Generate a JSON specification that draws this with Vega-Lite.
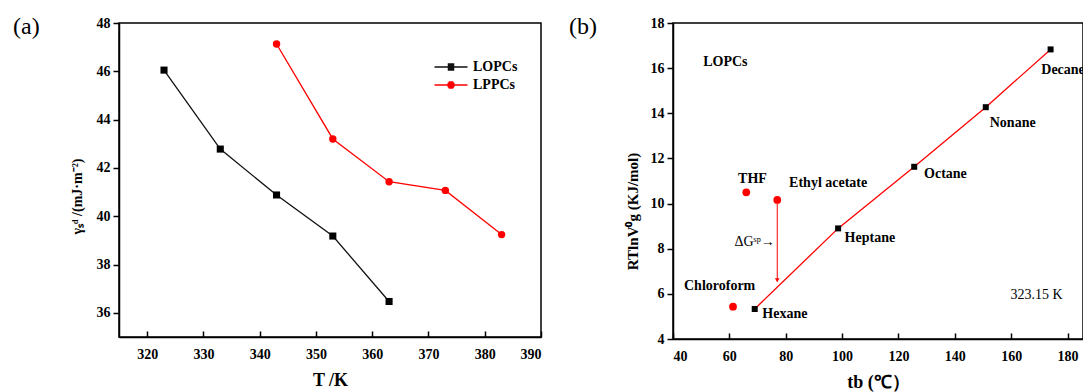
{
  "$schema": "https://vega.github.io/schema/vega-lite/v6.json",
  "padding": {"left": 12, "top": 14, "right": 0, "bottom": 0},
  "background": "white",
  "config": {
    "font": "Liberation Serif",
    "view": {"stroke": "#000", "strokeWidth": 1.5},
    "axis": {"grid": false, "domainColor": "#000", "domainWidth": 1.5, "tickColor": "#000", "tickWidth": 1.5,
      "labelFont": "Liberation Serif", "labelFontWeight": "bold", "labelFontSize": 14, "labelColor": "#000",
      "titleFont": "Liberation Serif", "titleFontWeight": "bold", "titleColor": "#000"},
    "axisX": {"tickSize": -6, "labelPadding": 16, "titleFontSize": 18, "titlePadding": 10},
    "axisY": {"tickSize": 6, "labelPadding": 3, "titleFontSize": 14, "titlePadding": 12},
    "legend": {"title": null, "orient": "none", "padding": 0, "labelFont": "Liberation Serif", "labelFontWeight": "bold", "labelFontSize": 14, "labelColor": "#000",
      "symbolSize": 100, "symbolStrokeWidth": 1.3, "symbolFillColor": "transparent", "labelOffset": 15},
    "title": {"font": "Liberation Serif", "fontSize": 24, "fontWeight": "normal", "anchor": "start", "frame": "group", "baseline": "top", "offset": 7, "dy": 30, "color": "#000"}
  },
  "bounds": "flush",
  "spacing": 132,
  "hconcat": [
    {
      "width": 422, "height": 314,
      "title": {"text": "(a)", "dx": -106},
      "data": {"values": [
        {"T": 323, "g": 46.05, "s": "LOPCs"},
        {"T": 333, "g": 42.78, "s": "LOPCs"},
        {"T": 343, "g": 40.88, "s": "LOPCs"},
        {"T": 353, "g": 39.18, "s": "LOPCs"},
        {"T": 363, "g": 36.47, "s": "LOPCs"},
        {"T": 343, "g": 47.13, "s": "LPPCs"},
        {"T": 353, "g": 43.2, "s": "LPPCs"},
        {"T": 363, "g": 41.43, "s": "LPPCs"},
        {"T": 373, "g": 41.07, "s": "LPPCs"},
        {"T": 383, "g": 39.24, "s": "LPPCs"}
      ]},
      "encoding": {
        "x": {"field": "T", "type": "quantitative", "scale": {"domain": [315, 390]},
          "axis": {"values": [320, 330, 340, 350, 360, 370, 380, 390], "title": "T /K"}},
        "y": {"field": "g", "type": "quantitative", "scale": {"domain": [35, 48]},
          "axis": {"values": [36, 38, 40, 42, 44, 46, 48], "title": "γₛᵈ /(mJ·m⁻²)", "titleY": 173}}
      },
      "layer": [
        {"transform": [{"filter": "datum.s === 'LOPCs'"}],
          "mark": {"type": "line", "strokeWidth": 1.3, "color": "#222"},
          "encoding": {"color": {"field": "s", "type": "nominal", "scale": {"domain": ["LOPCs"], "range": ["#111111"]},
            "legend": {"legendX": 325, "legendY": 37,
              "symbolType": "M-3.3,0H3.3M-0.65,-0.6H0.65M-0.65,-0.4H0.65M-0.65,-0.2H0.65M-0.65,0.2H0.65M-0.65,0.4H0.65M-0.65,0.6H0.65"}}}},
        {"transform": [{"filter": "datum.s === 'LPPCs'"}],
          "mark": {"type": "line", "strokeWidth": 1.3},
          "encoding": {"stroke": {"field": "s", "type": "nominal", "scale": {"domain": ["LPPCs"], "range": ["#ff0000"]},
            "legend": {"legendX": 325, "legendY": 55,
              "symbolType": "M-3.3,0H3.3M-0.72,-0.2H0.72M-0.72,0.2H0.72M-0.63,-0.4H0.63M-0.63,0.4H0.63M-0.45,-0.6H0.45M-0.45,0.6H0.45"}}}},
        {"transform": [{"filter": "datum.s === 'LOPCs'"}],
          "mark": {"type": "square", "size": 50, "color": "#000000", "opacity": 1}},
        {"transform": [{"filter": "datum.s === 'LPPCs'"}],
          "mark": {"type": "circle", "size": 55, "color": "#ff0000", "opacity": 1}}
      ],
      "resolve": {"legend": {"color": "independent", "stroke": "independent"}}
    },
    {
      "width": 410, "height": 316,
      "title": {"text": "(b)", "dx": -104},
      "encoding": {
        "x": {"field": "x", "type": "quantitative", "scale": {"domain": [40, 185.5]},
          "axis": {"values": [40, 60, 80, 100, 120, 140, 160, 180], "title": "tb (℃）"}},
        "y": {"field": "y", "type": "quantitative", "scale": {"domain": [4, 18]},
          "axis": {"values": [4, 6, 8, 10, 12, 14, 16, 18], "title": "RTlnV⁰g (KJ/mol)", "titleFontSize": 15, "titlePadding": 10, "titleY": 188}}
      },
      "layer": [
        {"data": {"values": [
          {"x": 69.0, "y": 5.33, "n": "Hexane"},
          {"x": 98.6, "y": 8.9, "n": "Heptane"},
          {"x": 125.6, "y": 11.63, "n": "Octane"},
          {"x": 151.0, "y": 14.27, "n": "Nonane"},
          {"x": 174.0, "y": 16.83, "n": "Decane"}
        ]},
          "layer": [
            {"mark": {"type": "line", "color": "#ff0000", "strokeWidth": 1.3}},
            {"mark": {"type": "square", "color": "#000", "size": 36, "opacity": 1}}
          ]},
        {"data": {"values": [
          {"x": 66.0, "y": 10.5, "n": "THF"},
          {"x": 77.0, "y": 10.16, "n": "Ethyl acetate"},
          {"x": 61.3, "y": 5.43, "n": "Chloroform"}
        ]},
          "mark": {"type": "circle", "color": "#ff0000", "size": 60, "opacity": 1}},
        {"data": {"values": [{"x": 77.0, "y": 10.0, "y2": 6.55}]},
          "mark": {"type": "rule", "color": "#ff0000", "strokeWidth": 1},
          "encoding": {"y2": {"field": "y2"}}},
        {"data": {"values": [{"x": 77.0, "y": 6.6}]},
          "mark": {"type": "point", "shape": "triangle-down", "filled": true, "color": "#ff0000", "size": 22, "opacity": 1}},
        {"data": {"values": [
          {"x": 50.7, "y": 16.27, "t": "LOPCs"},
          {"x": 63.1, "y": 11.09, "t": "THF"},
          {"x": 81.2, "y": 10.9, "t": "Ethyl acetate"},
          {"x": 43.9, "y": 6.36, "t": "Chloroform"},
          {"x": 71.7, "y": 5.1, "t": "Hexane"},
          {"x": 100.9, "y": 8.47, "t": "Heptane"},
          {"x": 129.1, "y": 11.31, "t": "Octane"},
          {"x": 152.4, "y": 13.57, "t": "Nonane"},
          {"x": 170.7, "y": 15.93, "t": "Decane"}
        ]},
          "mark": {"type": "text", "align": "left", "baseline": "middle", "font": "Liberation Serif", "fontWeight": "bold", "fontSize": 14, "color": "#000", "clip": true},
          "encoding": {"text": {"field": "t"}}},
        {"data": {"values": [
          {"x": 159.8, "y": 5.95, "t": "323.15 K"},
          {"x": 61.8, "y": 8.3, "t": "ΔGˢᵖ→"}
        ]},
          "mark": {"type": "text", "align": "left", "baseline": "middle", "font": "Liberation Serif", "fontSize": 14, "color": "#000"},
          "encoding": {"text": {"field": "t"}}}
      ]
    }
  ]
}
